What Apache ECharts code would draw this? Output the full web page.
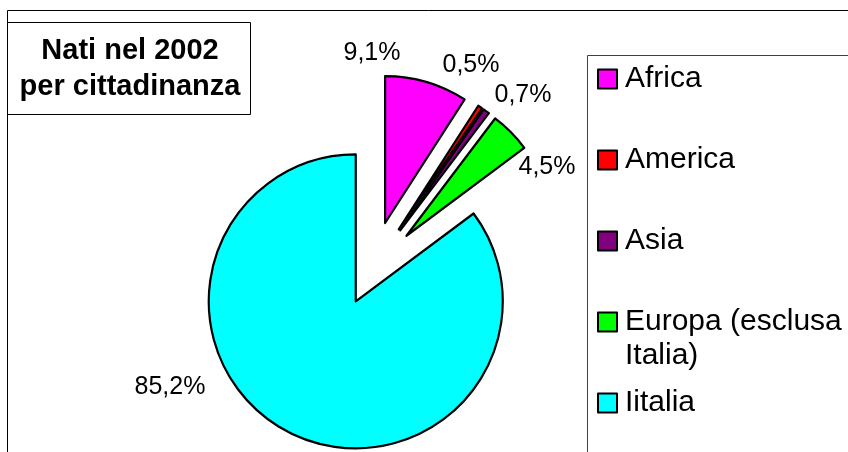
<!DOCTYPE html>
<html>
<head>
<meta charset="UTF-8">
<title>Nati nel 2002 per cittadinanza</title>
<script src="https://cdn.jsdelivr.net/npm/echarts@6/dist/echarts.min.js"></script>
</head>
<body style="margin:0">
<div id="main" style="width:848px;height:452px;"></div>
<script>
// dati
var categorie = ['Africa', 'America', 'Asia', 'Europa (esclusa Italia)', 'Iitalia'];
var valori = [9.1, 0.5, 0.7, 4.5, 85.2];
var colori = ['#ff00ff', '#ff0000', '#800080', '#00ff00', '#00ffff'];

// layout
var centro = [371, 271];
var raggio = 147;
var stacco = [50, 50, 50, 50, 34];          // distacco di ogni fetta
var posEtichette = [[372, 53], [471, 65], [523, 95], [547, 167], [170, 387]];
var font = 'Liberation Sans';
var rigaLeg = 34;

var myChart = echarts.init(document.getElementById('main'));

var totale = valori.reduce(function (a, b) { return a + b; }, 0);
var cumulato = 0;
var series = valori.map(function (v, i) {
    var mid = (cumulato + v / 2) / totale * 2 * Math.PI;
    cumulato += v;
    return {
        type: 'pie',
        center: [centro[0] + stacco[i] * Math.sin(mid), centro[1] - stacco[i] * Math.cos(mid)],
        radius: raggio,
        startAngle: 90,
        clockwise: true,
        avoidLabelOverlap: false,
        silent: true,
        animation: false,
        labelLine: {show: false},
        labelLayout: function () {
            return {x: posEtichette[i][0], y: posEtichette[i][1], align: 'center', verticalAlign: 'middle'};
        },
        data: categorie.map(function (n, j) {
            var vis = j === i;
            return {
                name: n,
                value: valori[j],
                itemStyle: vis ? {color: colori[j], borderColor: '#000', borderWidth: 2.2}
                               : {color: 'rgba(0,0,0,0)', borderWidth: 0},
                label: {
                    show: vis,
                    position: 'outside',
                    formatter: function (p) { return p.value.toFixed(1).replace('.', ',') + '%'; },
                    fontSize: 25,
                    fontFamily: font,
                    color: '#000'
                }
            };
        })
    };
});

// una legenda per voce, così l'icona resta sulla prima riga del testo
var stileTesto = {fontSize: 30, lineHeight: rigaLeg, fontFamily: font, color: '#000', padding: [0, 0, 0, 3]};
var legende = categorie.map(function (n, i) {
    var dueRighe = n.indexOf(' Italia') >= 0;
    var c = 79 + i * 81;
    return {
        left: 597,
        top: dueRighe ? c - rigaLeg * 1.5 : c - rigaLeg / 2,
        padding: 0,
        selectedMode: false,
        icon: 'rect',
        itemWidth: 19,
        itemHeight: 19,
        data: [{name: n, itemStyle: {color: colori[i], borderColor: '#000', borderWidth: 2}}],
        formatter: function (name) {
            if (!dueRighe) return '{a|' + name + '}';
            var p = name.split(' Italia');
            return '{a| }\n{a|' + p[0] + '}\n{a|Italia' + p[1] + '}';
        },
        textStyle: {
            fontSize: 30, lineHeight: rigaLeg, fontFamily: font, color: '#000',
            rich: {a: stileTesto}
        }
    };
});

option = {
    backgroundColor: '#fff',
    animation: false,
    graphic: [
        {type: 'rect', z: -1, shape: {x: 7.5, y: 10.5, width: 900, height: 500},
         style: {fill: 'none', stroke: '#000', lineWidth: 1}},
        {type: 'rect', shape: {x: 7.5, y: 22.5, width: 243, height: 92},
         style: {fill: '#fff', stroke: '#000', lineWidth: 1}},
        {type: 'text', x: 130, y: 68.5,
         style: {text: 'Nati nel 2002\nper cittadinanza', fontSize: 29, fontWeight: 'bold', fontFamily: font,
                 align: 'center', verticalAlign: 'middle', lineHeight: 36, fill: '#000'}},
        {type: 'rect', shape: {x: 587.5, y: 55.5, width: 400, height: 500},
         style: {fill: 'none', stroke: '#404040', lineWidth: 1}}
    ],
    legend: legende,
    series: series
};

myChart.setOption(option);
</script>
</body>
</html>
